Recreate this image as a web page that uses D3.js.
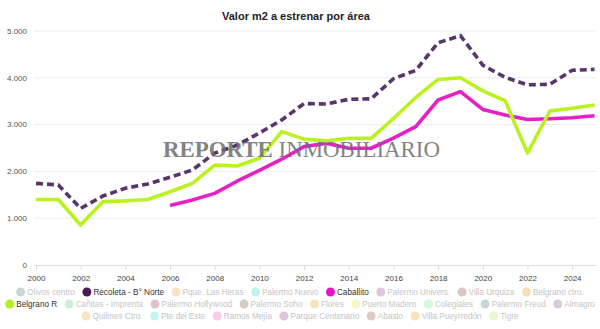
<!DOCTYPE html>
<html><head><meta charset="utf-8">
<script src="https://cdn.jsdelivr.net/npm/d3@7"></script>
<style>html,body{margin:0;padding:0;background:#fff}svg{display:block}</style>
</head><body><svg id="c" width="600" height="329"></svg>
<script>
const title = "Valor m2 a estrenar por área";
const years = [2000,2001,2002,2003,2004,2005,2006,2007,2008,2009,2010,2011,2012,2013,2014,2015,2016,2017,2018,2019,2020,2021,2022,2023,2024,2025];
const recoleta = [1745,1710,1210,1475,1640,1730,1875,2030,2390,2560,2820,3100,3450,3440,3540,3550,3980,4160,4750,4900,4270,4010,3850,3860,4160,4180];
const caballito = [null,null,null,null,null,null,1270,1390,1530,1790,2020,2260,2530,2600,2495,2495,2710,2955,3525,3705,3325,3205,3110,3125,3145,3190];
const belgranoR = [1400,1400,855,1355,1370,1400,1565,1745,2135,2115,2280,2850,2690,2655,2705,2705,3130,3580,3965,4000,3720,3510,2390,3290,3350,3420];
const yTicks = [0,1000,2000,3000,4000,5000];
const xTicks = [2000,2002,2004,2006,2008,2010,2012,2014,2016,2018,2020,2022,2024];
const legendNames = ["Olivos centro","Recoleta - B° Norte","Pque. Las Heras","Palermo Nuevo","Caballito","Palermo Univers.","Villa Urquiza","Belgrano ctro.",
  "Belgrano R","Cañitas - Imprenta","Palermo Hollywood","Palermo Soho","Flores","Puerto Madero","Colegiales","Palermo Freud","Almagro",
  "Quilmes Ctro.","Pte del Este","Ramos Mejía","Parque Centenario","Abasto","Villa Pueyrredón","Tigre"];
const legendColors = ["#c9d8d1","#4b1a57","#f6e2c4","#c6f1ef","#e614c4","#dcc8d8","#dcc6c2","#f4e1bc",
  "#b6f01c","#c9f1d8","#dcc4c9","#d9cbc6","#f6e2bc","#f6f5c4","#d5f5dd","#c9d9d1","#d6cadb",
  "#f6e5c4","#c6f5f5","#f8cbed","#dcc6da","#d9cdc6","#f8e2bc","#e9f8cb"];
const legendActive = ["Recoleta - B° Norte","Caballito","Belgrano R"];
const legendRowSizes = [8,9,7];

const svg = d3.select("#c");
const FONT = "'Liberation Sans', Arial, sans-serif";
const x = d3.scaleLinear().domain([2000,2025]).range([36,594.5]);
const y = d3.scaleLinear().domain([0,5000]).range([265,31]);

// title
svg.append("text").attr("x",296).attr("y",19.5).attr("text-anchor","middle")
  .attr("font-family",FONT).attr("font-weight","bold").attr("font-size",11).attr("fill","#252525").text(title);

// grid
svg.append("g").selectAll("line").data(yTicks.filter(d=>d>0)).join("line")
  .attr("x1",34).attr("x2",596).attr("y1",d=>y(d)).attr("y2",d=>y(d))
  .attr("stroke","#ececec").attr("stroke-width",1);
svg.append("g").selectAll("text").data(yTicks).join("text")
  .attr("x",27).attr("y",d=>y(d)).attr("dy","0.35em").attr("text-anchor","end")
  .attr("font-family",FONT).attr("font-size",8).attr("fill","#555")
  .text(d=>d3.format(",")(d).replace(/,/g,"."));

// x axis
const xa = svg.append("g").attr("transform","translate(0,265)")
  .call(d3.axisBottom(x).tickValues(xTicks).tickFormat(d3.format("d")).tickSize(5).tickPadding(5));
xa.select(".domain").attr("stroke","#dcdcdc").attr("d","M34,0.5H596");
xa.selectAll(".tick line").attr("stroke","#dcdcdc");
xa.selectAll(".tick text").attr("font-family",FONT).attr("font-size",8).attr("fill","#444");

// lines
const mk = vals => years.map((yr,i)=>({yr, v: vals[i]}));
const line = d3.line().defined(d=>d.v!=null).x(d=>x(d.yr)).y(d=>y(d.v)).curve(d3.curveLinear);
svg.append("path").datum(mk(recoleta)).attr("d",line).attr("fill","none")
  .attr("stroke","#58366c").attr("stroke-width",3.6).attr("stroke-dasharray","7,4");
svg.append("path").datum(mk(caballito)).attr("d",line).attr("fill","none")
  .attr("stroke","#e620c6").attr("stroke-width",3.6).attr("stroke-linejoin","round");
svg.append("path").datum(mk(belgranoR)).attr("d",line).attr("fill","none")
  .attr("stroke","#b9f21e").attr("stroke-width",3.6).attr("stroke-linejoin","round");

// watermark
const wm = svg.append("text").attr("x",163).attr("y",157).attr("font-family","'Liberation Serif','Times New Roman',serif")
  .attr("font-size",23).attr("fill","#6e6e6e").attr("opacity",0.85)
  .attr("textLength",277).attr("lengthAdjust","spacingAndGlyphs");
wm.append("tspan").attr("font-weight","bold").text("REPORTE ");
wm.append("tspan").text("INMOBILIARIO");

// legend
const rowY = [292,304,316];
let idx = 0;
const lg = svg.append("g");
legendRowSizes.forEach((n,r)=>{
  const items = legendNames.slice(idx, idx+n).map((name,k)=>({name, color: legendColors[idx+k]}));
  idx += n;
  const g = lg.append("g");
  let cx = 0;
  items.forEach(it=>{
    const act = legendActive.includes(it.name);
    g.append("circle").attr("cx",cx+4.5).attr("cy",rowY[r]).attr("r",4.5).attr("fill",it.color);
    const t = g.append("text").attr("x",cx+11).attr("y",rowY[r]).attr("dy","0.35em")
      .attr("font-family",FONT).attr("font-size",8.2).attr("fill",act?"#333":"#c4c4c4").text(it.name);
    cx += 11 + t.node().getComputedTextLength() + 7.5;
  });
  const w = cx - 7.5;
  g.attr("transform",`translate(${300 - w/2},0)`);
});
</script></body></html>
